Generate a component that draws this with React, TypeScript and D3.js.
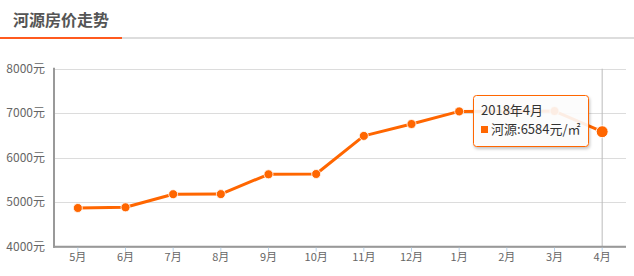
import React from "react";
import * as d3 from "d3";

const months = ["5月", "6月", "7月", "8月", "9月", "10月", "11月", "12月", "1月", "2月", "3月", "4月"];
const prices = [4870, 4885, 5180, 5182, 5627, 5634, 6490, 6757, 7040, 7045, 7049, 6584];
const yTicks = [4000, 5000, 6000, 7000, 8000];
const title = "河源房价走势";
const tooltipTitle = "2018年4月";
const seriesName = "河源";

const W = 634;
const H = 276;
const FONT = "'Noto Sans CJK SC', 'Microsoft YaHei', sans-serif";
const ORANGE = "#ff6600";

export default function App() {
  const left = 54;
  const right = 626;
  const top = 68.7;
  const bottom = 246.7;
  const x = d3.scaleBand<string>().domain(months).range([left, right]);
  const cx = (m: string) => (x(m) as number) + x.bandwidth() / 2;
  const y = d3.scaleLinear().domain([4000, 8000]).range([bottom, top]);
  const line = d3
    .line<number>()
    .x((_, i) => cx(months[i]))
    .y((d) => y(d));
  const hi = months.length - 1;
  const hx = cx(months[hi]);
  const hy = y(prices[hi]);

  return (
    <svg
      width={W}
      height={H}
      style={{ position: "absolute", left: 0, top: 0, fontFamily: FONT }}
    >
      <defs>
        <filter id="shadow" x="-20%" y="-20%" width="140%" height="150%">
          <feDropShadow dx="1" dy="2" stdDeviation="1.5" floodColor="#000" floodOpacity="0.25" />
        </filter>
      </defs>
      <rect x={0} y={0} width={W} height={H} fill="#fff" />
      {/* title */}
      <text x={13} y={26} fontSize={16} fontWeight="bold" fill="#555">
        {title}
      </text>
      <rect x={0} y={37} width={W} height={2} fill="#dddddd" />
      <rect x={0} y={37} width={122} height={2} fill="#ff5a1f" />

      {/* grid */}
      {yTicks.map((t) => (
        <line
          key={t}
          x1={left}
          x2={right}
          y1={Math.round(y(t)) + 0.5}
          y2={Math.round(y(t)) + 0.5}
          stroke="#dcdcdc"
          strokeWidth={1}
        />
      ))}
      {yTicks.map((t) => (
        <text
          key={"l" + t}
          x={45}
          y={y(t)}
          dy="0.35em"
          textAnchor="end"
          fontSize={12}
          fill="#666"
        >
          {t}元
        </text>
      ))}

      {/* crosshair */}
      <line x1={hx} x2={hx} y1={top} y2={bottom} stroke="#bbb" strokeWidth={1} />

      {/* axes */}
      <line x1={left} x2={left} y1={top - 1} y2={bottom + 1} stroke="#999" strokeWidth={2} />
      <line x1={left - 1} x2={right} y1={bottom} y2={bottom} stroke="#999" strokeWidth={2} />
      {months.map((m) => (
        <g key={m}>
          <line x1={cx(m)} x2={cx(m)} y1={bottom + 1} y2={bottom + 5} stroke="#b8d4ec" strokeWidth={1} />
          <text x={cx(m)} y={261} textAnchor="middle" fontSize={11} fill="#666">
            {m}
          </text>
        </g>
      ))}

      {/* series */}
      <path d={line(prices) || ""} fill="none" stroke={ORANGE} strokeWidth={3} strokeLinejoin="round" />
      {prices.map((p, i) =>
        i === hi ? null : (
          <circle key={i} cx={cx(months[i])} cy={y(p)} r={4.5} fill={ORANGE} stroke="#fff" strokeWidth={0.8} />
        )
      )}
      <circle cx={hx} cy={hy} r={6} fill={ORANGE} stroke="#fff" strokeWidth={1} />

      {/* tooltip */}
      <g filter="url(#shadow)">
        <rect x={473.5} y={95.5} width={115} height={51} rx={3} fill="rgba(255,255,255,0.88)" stroke={ORANGE} strokeWidth={1} />
      </g>
      <text x={481} y={115} fontSize={13} fill="#333">
        {tooltipTitle}
      </text>
      <rect x={481} y={126} width={7} height={7} fill={ORANGE} />
      <text x={491} y={134} fontSize={13} fill="#333">
        {seriesName}:{prices[hi]}元/㎡
      </text>
    </svg>
  );
}
